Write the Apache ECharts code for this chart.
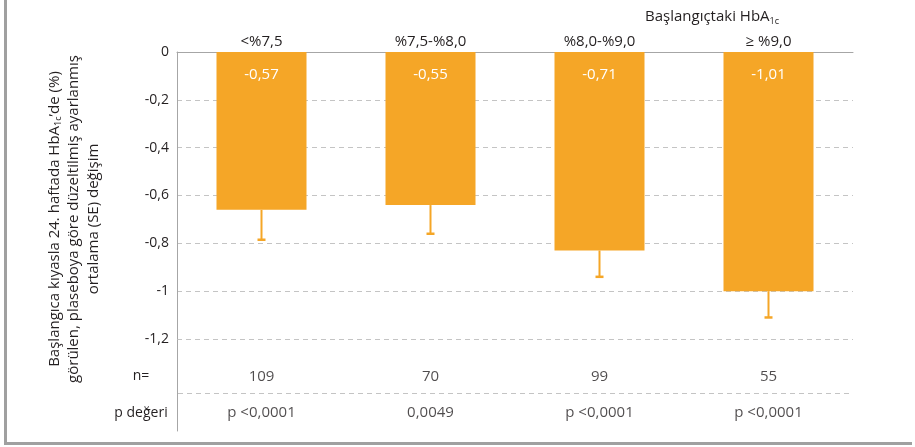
<!DOCTYPE html>
<html>
<head>
<meta charset="utf-8">
<script src="https://cdn.jsdelivr.net/npm/echarts@6/dist/echarts.min.js"></script>
<style>html,body{margin:0;padding:0;background:#fff}#c{width:915px;height:447px}</style>
</head>
<body>
<div id="c"></div>
<script>
const categories = ['<%7,5', '%7,5-%8,0', '%8,0-%9,0', '≥ %9,0'];
const meanChange = [-0.66, -0.64, -0.83, -1.00];
const errorLow = [-0.785, -0.76, -0.94, -1.11];
const barLabels = ['-0,57', '-0,55', '-0,71', '-1,01'];
const nValues = ['109', '70', '99', '55'];
const pValues = ['p <0,0001', '0,0049', 'p <0,0001', 'p <0,0001'];
const rowLabels = ['p değeri', 'n='];
const yMin = -1.2, yMax = 0, yStep = 0.2;

const FONT = 'Open Sans';
const TXT = '#231f20';
const ORANGE = '#F5A627';
const GRAY = '#a6a6a6';

const chart = echarts.init(document.getElementById('c'));
chart.setOption({
  animation: false,
  textStyle: { fontFamily: FONT },
  title: {
    text: 'Başlangıçtaki HbA{s|1c}',
    left: 640, top: 2,
    textStyle: {
      fontFamily: FONT, fontSize: 15, fontWeight: 'normal', color: TXT,
      rich: { s: { fontFamily: FONT, fontSize: 9, color: TXT, padding: [10, 0, 0, 0] } }
    }
  },
  grid: [
    { left: 177, right: 62, top: 52, bottom: 108 },
    { left: 177, right: 62, top: 358, bottom: 16 }
  ],
  xAxis: [
    {
      type: 'category', gridIndex: 0, position: 'top', data: categories,
      axisLine: { show: true, lineStyle: { color: GRAY, width: 1 } },
      axisTick: { show: false },
      axisLabel: { color: TXT, fontSize: 15, fontFamily: FONT, margin: 3 }
    },
    { type: 'category', gridIndex: 1, data: categories, show: false }
  ],
  yAxis: [
    {
      type: 'value', gridIndex: 0, min: yMin, max: yMax, interval: yStep,
      axisLine: { show: true, lineStyle: { color: GRAY, width: 1 } },
      axisTick: { show: false },
      axisLabel: {
        color: TXT, fontSize: 14, fontFamily: FONT, margin: 8,
        formatter: v => String(Number(v.toFixed(1))).replace('.', ',')
      },
      splitLine: { show: true, lineStyle: { color: '#c4c4c4', type: [5, 4], width: 1 } }
    },
    {
      type: 'category', gridIndex: 1, data: rowLabels,
      axisLine: { show: true, lineStyle: { color: GRAY, width: 1 } },
      axisTick: { show: false },
      axisLabel: { color: TXT, fontSize: 14, fontFamily: FONT, margin: 36, align: 'center' },
      splitLine: { show: false }
    }
  ],
  series: [
    {
      type: 'bar', xAxisIndex: 0, yAxisIndex: 0, data: meanChange, barWidth: 90,
      itemStyle: { color: ORANGE },
      label: {
        show: true, position: 'insideTop', distance: 15,
        color: '#fff', fontSize: 15, fontFamily: FONT,
        formatter: p => barLabels[p.dataIndex]
      },
      z: 2
    },
    {
      type: 'custom', xAxisIndex: 0, yAxisIndex: 0,
      data: categories.map((c, i) => [i, meanChange[i], errorLow[i]]),
      encode: { x: 0, y: [1, 2] },
      renderItem: (params, api) => {
        const x = api.value(0);
        const a = api.coord([x, api.value(1)]);
        const b = api.coord([x, api.value(2)]);
        return {
          type: 'group',
          children: [
            { type: 'line', shape: { x1: a[0], y1: a[1], x2: b[0], y2: b[1] }, style: { stroke: ORANGE, lineWidth: 2 } },
            { type: 'line', shape: { x1: b[0] - 4, y1: b[1], x2: b[0] + 4, y2: b[1] }, style: { stroke: ORANGE, lineWidth: 2.5 } }
          ]
        };
      },
      z: 3
    },
    {
      type: 'scatter', xAxisIndex: 1, yAxisIndex: 1, symbolSize: 1,
      itemStyle: { color: 'rgba(0,0,0,0)' },
      data: categories.map((c, i) => [c, 'n=']),
      label: { show: true, position: 'inside', color: TXT, fontSize: 15, fontFamily: FONT, formatter: p => nValues[p.dataIndex] }
    },
    {
      type: 'scatter', xAxisIndex: 1, yAxisIndex: 1, symbolSize: 1,
      itemStyle: { color: 'rgba(0,0,0,0)' },
      data: categories.map((c, i) => [c, 'p değeri']),
      label: { show: true, position: 'inside', color: TXT, fontSize: 15, fontFamily: FONT, formatter: p => pValues[p.dataIndex] }
    }
  ],
  graphic: [
    { type: 'line', shape: { x1: 177.5, y1: 339, x2: 177.5, y2: 358 }, style: { stroke: GRAY, lineWidth: 1 } },
    { type: 'line', shape: { x1: 178, y1: 393.5, x2: 853, y2: 393.5 }, style: { stroke: '#c4c4c4', lineWidth: 1, lineDash: [5, 4] } },
    { type: 'line', shape: { x1: 5.5, y1: 0, x2: 5.5, y2: 443 }, style: { stroke: '#a0a0a0', lineWidth: 3 } },
    { type: 'line', shape: { x1: 4, y1: 443.5, x2: 912, y2: 443.5 }, style: { stroke: '#a0a0a0', lineWidth: 3 } },
    {
      type: 'text', x: 74, y: 219, rotation: Math.PI / 2,
      style: {
        text: 'Başlangıca kıyasla 24. haftada HbA{s|1c}’de (%)\ngörülen, plaseboya göre düzeltilmiş ayarlanmış\nortalama (SE) değişim',
        align: 'center', verticalAlign: 'middle',
        fontFamily: FONT, fontSize: 15, lineHeight: 19.5, fill: TXT,
        rich: { s: { fontFamily: FONT, fontSize: 9, fill: TXT, padding: [8, 0, 0, 0] } }
      }
    }
  ]
});
</script>
</body>
</html>
